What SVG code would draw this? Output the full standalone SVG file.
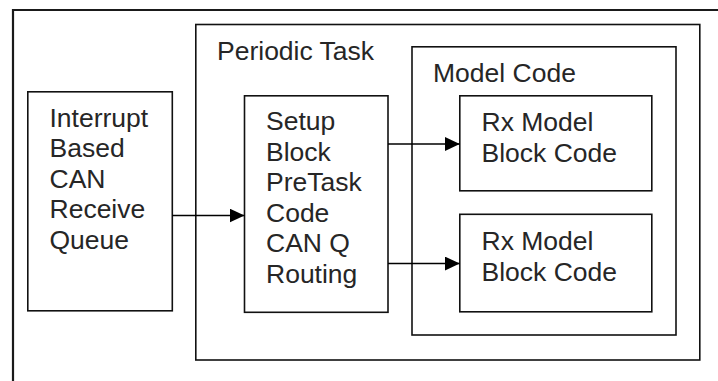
<svg xmlns="http://www.w3.org/2000/svg" width="718" height="381" viewBox="0 0 718 381">
  <style>
    .box { fill: #ffffff; stroke: #111111; stroke-width: 1.6; }
    .frame { fill: none; stroke: #1a1a1a; stroke-width: 2.2; }
    .label { font-family: "Liberation Sans", Arial, sans-serif; font-size: 26.5px; fill: #262626; }
    .conn { stroke: #000000; stroke-width: 1.6; fill: none; }
  </style>
  <defs>
    <marker id="arrow" viewBox="0 0 15 14" refX="15" refY="7" markerWidth="15" markerHeight="14" markerUnits="userSpaceOnUse" orient="auto">
      <path d="M0,0 L15,7 L0,14 Z" fill="#000000"/>
    </marker>
  </defs>

  <rect width="718" height="381" fill="#ffffff"/>

  <!-- outer page frame (runs off the right and bottom edges) -->
  <path class="frame" d="M13,381 V10 H718"/>

  <g id="interrupt-queue">
    <rect class="box" x="27.8" y="91.8" width="144.5" height="219"/>
    <text class="label">
      <tspan x="49.5" y="126.7">Interrupt</tspan>
      <tspan x="49.5" y="157.2">Based</tspan>
      <tspan x="49.5" y="187.7">CAN</tspan>
      <tspan x="49.5" y="218.2">Receive</tspan>
      <tspan x="49.5" y="248.7">Queue</tspan>
    </text>
  </g>

  <g id="periodic-task">
    <rect class="box" x="195.8" y="24.5" width="504" height="335.5"/>
    <text class="label" x="217" y="60">Periodic Task</text>
  </g>

  <g id="setup-block">
    <rect class="box" x="244.5" y="95.8" width="143.5" height="216.5"/>
    <text class="label">
      <tspan x="266" y="130">Setup</tspan>
      <tspan x="266" y="160.6">Block</tspan>
      <tspan x="266" y="191.2">PreTask</tspan>
      <tspan x="266" y="221.8">Code</tspan>
      <tspan x="266" y="252.4">CAN Q</tspan>
      <tspan x="266" y="283">Routing</tspan>
    </text>
  </g>

  <g id="model-code">
    <rect class="box" x="412" y="46.8" width="264" height="288.2"/>
    <text class="label" x="433" y="81.5">Model Code</text>
  </g>

  <g id="rx-model-1">
    <rect class="box" x="459.8" y="95.8" width="192" height="95"/>
    <text class="label">
      <tspan x="481.5" y="131">Rx Model</tspan>
      <tspan x="481.5" y="161.5">Block Code</tspan>
    </text>
  </g>

  <g id="rx-model-2">
    <rect class="box" x="459.8" y="214.3" width="192" height="97.5"/>
    <text class="label">
      <tspan x="481.5" y="250">Rx Model</tspan>
      <tspan x="481.5" y="280.5">Block Code</tspan>
    </text>
  </g>

  <g id="connectors">
    <line class="conn" x1="172.3" y1="215.5" x2="244.5" y2="215.5" marker-end="url(#arrow)"/>
    <line class="conn" x1="388" y1="144" x2="459.8" y2="144" marker-end="url(#arrow)"/>
    <line class="conn" x1="388" y1="263.5" x2="459.8" y2="263.5" marker-end="url(#arrow)"/>
  </g>
</svg>
